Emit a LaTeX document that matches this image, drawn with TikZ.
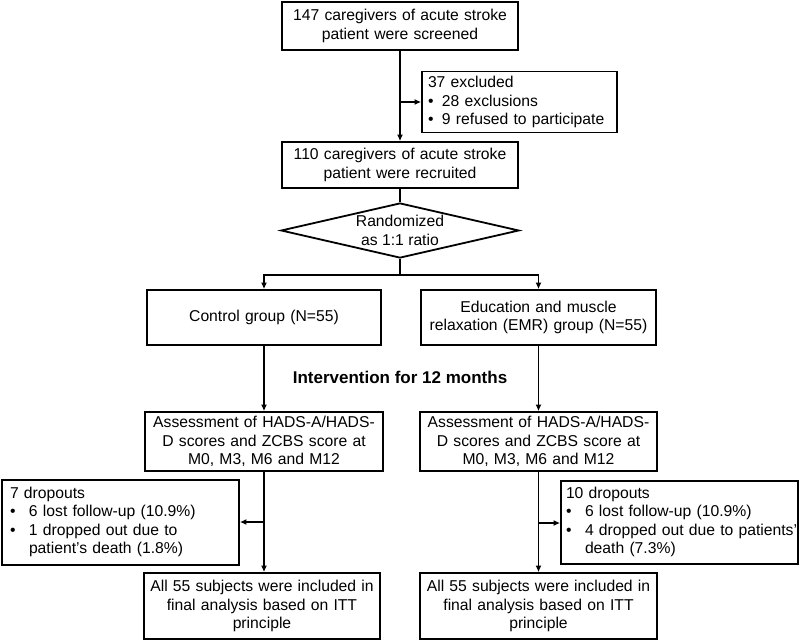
\documentclass[tikz,border=0pt]{standalone}
\usepackage{fontspec}
\setmainfont{Liberation Sans}
\usetikzlibrary{shapes.geometric,arrows.meta}
\tikzset{
  box/.style={draw, line width=1.8pt, inner ysep=0pt, inner xsep=0pt,
    align=center, font=\fontsize{15.7}{18.5}\selectfont},
  lbox/.style={box, align=left},
  arr/.style={-{Latex[length=6.5pt,width=6pt]}},
}
\newcommand{\itm}[1]{\makebox[#1][l]{\textbullet}}
\hyphenpenalty=10000
\exhyphenpenalty=10000
\begin{document}
\begin{tikzpicture}[x=1pt,y=-1pt]
      \useasboundingbox (0,0) rectangle (800,641);
      \path
        (400,26) node[box, minimum width=236pt, minimum height=48pt, text width=226pt] (screen)
          {147 caregivers of acute stroke\\patient were screened}
        (519.5,102) node[lbox, minimum width=195pt, minimum height=61pt, inner xsep=6pt, text width=183pt] (excl)
          {37 excluded\\\itm{14pt}28 exclusions\\\itm{14pt}9 refused to participate}
        (400,165) node[box, minimum width=236pt, minimum height=46pt, text width=226pt] (recruit)
          {110 caregivers of acute stroke\\patient were recruited}
        (400,230.5) node[box, diamond, aspect=4.3, minimum width=238pt, minimum height=55pt] (rand)
          {Randomized\\as 1:1 ratio}
        (264,317.5) node[box, minimum width=234pt, minimum height=55pt, text width=224pt] (ctrl)
          {Control group (N=55)}
        (538.5,317.5) node[box, minimum width=235pt, minimum height=55pt, text width=225pt] (emr)
          {Education and muscle\\relaxation (EMR) group (N=55)}
        (400,377) node[font=\fontsize{17}{20}\selectfont\bfseries] (interv)
          {Intervention for 12 months}
        (264,441.5) node[box, minimum width=238pt, minimum height=59pt, text width=228pt] (asL)
          {Assessment of HADS-A/HADS-\\D scores and ZCBS score at\\M0, M3, M6 and M12}
        (538.5,441.5) node[box, minimum width=237pt, minimum height=59pt, text width=227pt] (asR)
          {Assessment of HADS-A/HADS-\\D scores and ZCBS score at\\M0, M3, M6 and M12}
        (120.5,522.5) node[lbox, minimum width=237pt, minimum height=85pt, inner xsep=8pt, text width=221pt] (dropL)
          {\begin{tabular}{@{}p{19pt}@{}l@{}}
             \multicolumn{2}{@{}l@{}}{7 dropouts}\\
             \textbullet & 6 lost follow-up (10.9\%)\\
             \textbullet & 1 dropped out due to\\
                         & patient's death (1.8\%)
           \end{tabular}}
        (679.5,522.5) node[lbox, minimum width=237pt, minimum height=83pt, inner xsep=5pt, text width=227pt] (dropR)
          {\begin{tabular}{@{}p{19pt}@{}l@{}}
             \multicolumn{2}{@{}l@{}}{10 dropouts}\\
             \textbullet & 6 lost follow-up (10.9\%)\\
             \textbullet & 4 dropped out due to patients'\\
                         & death (7.3\%)
           \end{tabular}}
        (262,606) node[box, minimum width=236pt, minimum height=66pt, text width=226pt] (finL)
          {All 55 subjects were included in\\final analysis based on ITT\\principle}
        (538.5,606) node[box, minimum width=237pt, minimum height=66pt, text width=227pt] (finR)
          {All 55 subjects were included in\\final analysis based on ITT\\principle};
      \coordinate (je) at (screen.south |- excl.west);
      \coordinate (sp) at (400,275);
      \coordinate (jl) at (264,522);
      \coordinate (jr) at (538.5,523);
      \begin{scope}[line width=1.4pt]
        \draw[arr] (screen) to (recruit);
        \draw[arr] (je) to (excl.west);
        \draw (recruit) to (rand);
        \draw (rand.south) to (sp);
        \draw[arr] (sp) -| (ctrl.north);
        \draw[arr] (sp) -| (emr.north);
        \draw[arr] (ctrl) to (asL);
        \draw[arr] (emr) to (asR);
        \draw[arr] (asL) to (asL.south |- finL.north);
        \draw[arr] (asR) to (finR);
        \draw[arr] (jl) to (jl -| dropL.east);
        \draw[arr] (jr) to (jr -| dropR.west);
      \end{scope}
    \end{tikzpicture}
\end{document}
